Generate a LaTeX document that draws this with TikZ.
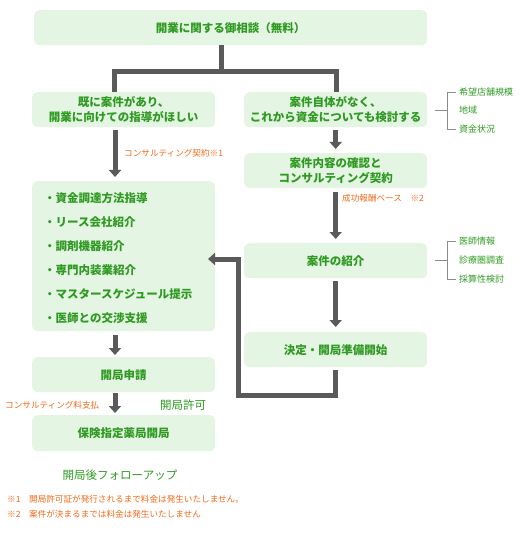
\documentclass[tikz,border=0pt]{standalone}
\usepackage{fontspec}
\setmainfont{Noto Sans CJK JP}
\usetikzlibrary{arrows.meta}
\definecolor{boxfill}{HTML}{E5F5E3}
\definecolor{tgreen}{HTML}{2F9A22}
\definecolor{torange}{HTML}{F26A1B}
\definecolor{agray}{HTML}{5A5A5A}
\definecolor{bgray}{HTML}{8C8C8C}
\begin{document}
\begin{tikzpicture}[x=1pt,y=-1pt,
  box/.style={fill=boxfill, rounded corners=5pt, inner sep=0pt, text=tgreen,
    font=\bfseries\fontsize{11.5}{15}\selectfont, align=center, anchor=north west,
    minimum width=183pt},
  conn/.style={draw=agray, line width=5pt},
  flow/.style={draw=agray, line width=5pt, -{Triangle[width=12pt,length=7pt]}},
  note/.style={text=torange, font=\fontsize{8.6}{10}\selectfont, inner sep=0pt, anchor=west},
  side/.style={text=tgreen, font=\fontsize{9}{10}\selectfont, inner sep=0pt, anchor=west},
  brk/.style={draw=bgray, line width=0.8pt},
  gtext/.style={text=tgreen, font=\fontsize{11.5}{13}\selectfont, inner sep=0pt}]
\useasboundingbox (0,0) rectangle (530,534);
% boxes
\node[box, minimum width=393pt, minimum height=35pt] (top) at (34,10) {開業に関する御相談（無料）};
\node[box, minimum height=35pt] (b2L) at (32,92) {既に案件があり、\\開業に向けての指導がほしい};
\node[box, minimum height=35pt] (b2R) at (244,92) {案件自体がなく、\\これから資金についても検討する};
\node[box, minimum height=35pt] (b3R) at (244,153) {案件内容の確認と\\コンサルティング契約};
\node[box, minimum height=150pt] (bigL) at (32,181) {};
\node[box, minimum height=35pt] (b4R) at (244,243) {案件の紹介};
\node[box, minimum height=35pt] (b5R) at (244,332) {決定・開局準備開始};
\node[box, minimum height=35pt] (b6L) at (32,357) {開局申請};
\node[box, minimum height=36pt] (b7L) at (32,415) {保険指定薬局開局};
\node[text=tgreen, font=\bfseries\fontsize{11.5}{24}\selectfont, align=left, inner sep=0pt, anchor=west] (list) at (44,258)
  {・資金調達方法指導\\・リース会社紹介\\・調剤機器紹介\\・専門内装業紹介\\・マスタースケジュール提示\\・医師との交渉支援};
% top connector
\coordinate (j) at (221,72);
\coordinate (jl) at (114,72);
\coordinate (jr) at (336,72);
\draw[conn] (top.south -| j) -- (j);
\draw[conn, line join=miter] (b2L.north -| jl) |- (jr) -- (b2R.north -| jr);
% left arrows
\coordinate (la) at (115,0);
\draw[flow, shorten <=3pt, shorten >=4pt] (b2L.south -| la) -- (bigL.north -| la);
\draw[flow, shorten <=4pt, shorten >=2pt] (bigL.south -| la) -- (b6L.north -| la);
\draw[flow, shorten <=1pt, shorten >=2pt] (b6L.south -| la) -- (b7L.north -| la);
% right arrows
\draw[flow, shorten <=3pt, shorten >=4pt] (b2R.south) -- (b3R.north);
\draw[flow, shorten <=4pt, shorten >=4pt] (b3R.south) -- (b4R.north);
\draw[flow, shorten <=3pt, shorten >=5pt] (b4R.south) -- (b5R.north);
% return arrow
\coordinate (r1) at (238,395);
\coordinate (r2) at (238,259);
\coordinate (rt) at (208,259);
\draw[flow, line join=miter, shorten <=3pt] (b5R.south) |- (r1) -- (r2) -- (rt);
% labels
\node[note] (n1) at (124,153) {コンサルティング契約※1};
\node[note] (n2) at (342,198) {成功報酬ベース　※2};
\node[note] (n3) at (5,405) {コンサルティング料支払};
\node[gtext] (kyoka) at (183,405) {開局許可};
\node[gtext] (follow) at (120,475) {開局後フォローアップ};
\node[note] (f1) at (7,499) {※1　開局許可証が発行されるまで料金は発生いたしません。};
\node[note] (f2) at (7,514) {※2　案件が決まるまでは料金は発生いたしません};
% side bracket 1
\node[side] (s1) at (459,92) {希望店舗規模};
\node[side] (s2) at (459,110) {地域};
\node[side] (s3) at (459,129) {資金状況};
\coordinate (k1) at (447,92);
\coordinate (k3) at (447,129);
\draw[brk] ([xshift=-3pt]s1.west) -- (k1) -- (k3) -- ([xshift=-3pt]s3.west);
\draw[brk] (435,110) -- (447,110);
% side bracket 2
\node[side] (t1) at (459,241) {医師情報};
\node[side] (t2) at (459,260) {診療圏調査};
\node[side] (t3) at (459,279) {採算性検討};
\coordinate (m1) at (447,241);
\coordinate (m3) at (447,279);
\draw[brk] ([xshift=-3pt]t1.west) -- (m1) -- (m3) -- ([xshift=-3pt]t3.west);
\draw[brk] (435,260) -- (447,260);
\end{tikzpicture}
\end{document}
